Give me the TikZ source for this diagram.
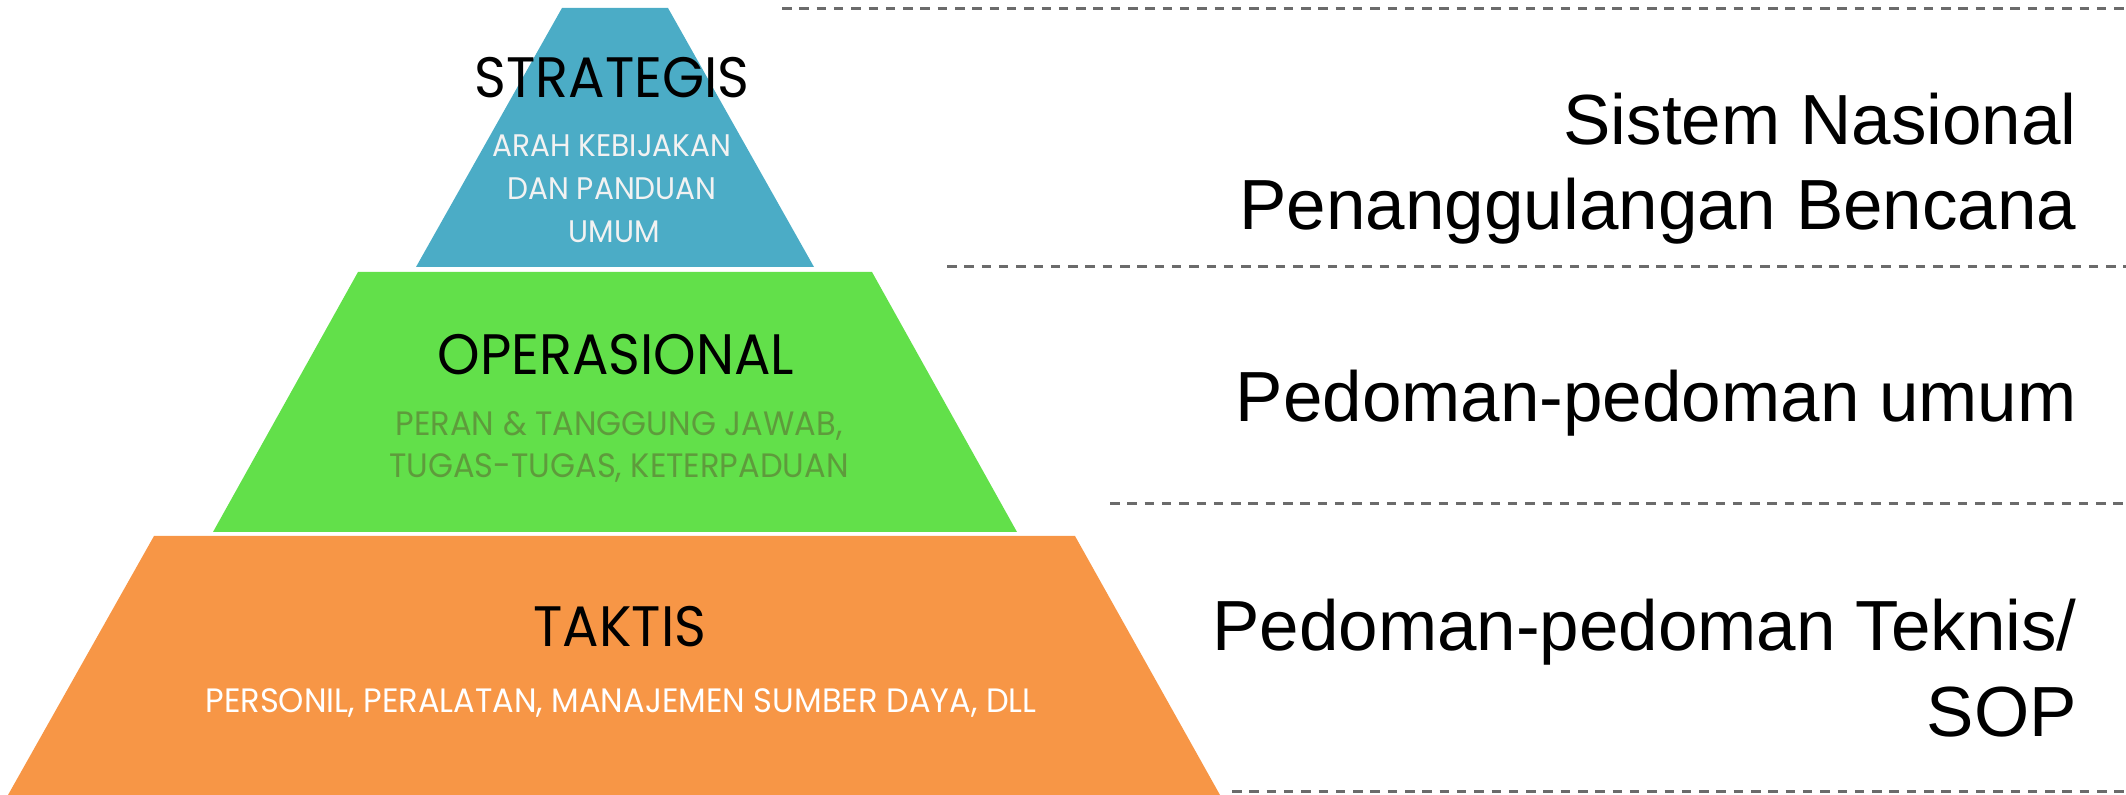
\documentclass[tikz,border=0pt]{standalone}
\usepackage{fontspec}
\setmainfont{Liberation Sans}
\newfontfamily\tw[FakeStretch=0.95]{Poppins}
\definecolor{cblue}{HTML}{4BACC6}
\definecolor{cgreen}{HTML}{62E04A}
\definecolor{corange}{HTML}{F79646}
\definecolor{cgtext}{HTML}{5E9B3C}
\definecolor{cdash}{HTML}{6B6B6B}
\begin{document}
\begin{tikzpicture}[x=0.5pt,y=-0.5pt,
  head/.style={inner sep=0pt,anchor=base,font=\tw\fontsize{28.5}{30}\selectfont,text=black},
  sub/.style={inner sep=0pt,anchor=base,font=\tw\fontsize{16.9}{18}\selectfont},
  subs/.style={inner sep=0pt,anchor=base,font=\tw\fontsize{15.6}{18}\selectfont},
  rtext/.style={inner sep=0pt,anchor=base east,font=\fontsize{35.5}{40}\selectfont,text=black},
  sep/.style={draw=cdash,line width=1.5pt,dash pattern=on 4.75pt off 3.9pt}]
\useasboundingbox (0,0) rectangle (2126,795);
% pyramid tiers
\fill[cblue] (562,8) -- (668,8) -- (814,267) -- (416,267) -- cycle;
\fill[cgreen] (358,272) -- (872,272) -- (1017,532) -- (213,532) -- cycle;
\fill[corange] (154,536) -- (1075,536) -- (1220,795) -- (8,795) -- cycle;
% texts in pyramid
\node[head] (s1) at (612,98) {STRATEGIS};
\node[subs,text=white!95!black] (s2) at (612,157) {ARAH KEBIJAKAN};
\node[subs,text=white!95!black] (s3) at (612,200) {DAN PANDUAN};
\node[subs,text=white!95!black] (s4) at (614,243) {UMUM};
\node[head] (o1) at (616,375) {OPERASIONAL};
\node[sub,text=cgtext] (o2) at (619,436) {PERAN \& TANGGUNG JAWAB,};
\node[sub,text=cgtext] (o3) at (619,478) {TUGAS-TUGAS, KETERPADUAN};
\node[head] (t1) at (620,647) {TAKTIS};
\node[sub,text=white] (t2) at (621,713) {PERSONIL, PERALATAN, MANAJEMEN SUMBER DAYA, DLL};
% dashed separators
\coordinate (d1a) at (782,9); \coordinate (d1b) at (2126,9);
\coordinate (d2a) at (947,267); \coordinate (d2b) at (2126,267);
\coordinate (d3a) at (1110,504); \coordinate (d3b) at (2126,504);
\coordinate (d4a) at (1232,792); \coordinate (d4b) at (2126,792);
\draw[sep] (d1a) -- (d1b);
\draw[sep] (d2a) -- (d2b);
\draw[sep] (d3a) -- (d3b);
\draw[sep] (d4a) -- (d4b);
% right texts
\node[rtext] (r1) at (2077,145) {Sistem Nasional};
\node[rtext] (r2) at (2077,230) {Penanggulangan Bencana};
\node[rtext] (r3) at (2077,422) {Pedoman-pedoman umum};
\node[rtext] (r4) at (2077,651) {Pedoman-pedoman Teknis/};
\node[rtext] (r5) at (2077,737) {SOP};
\end{tikzpicture}
\end{document}
